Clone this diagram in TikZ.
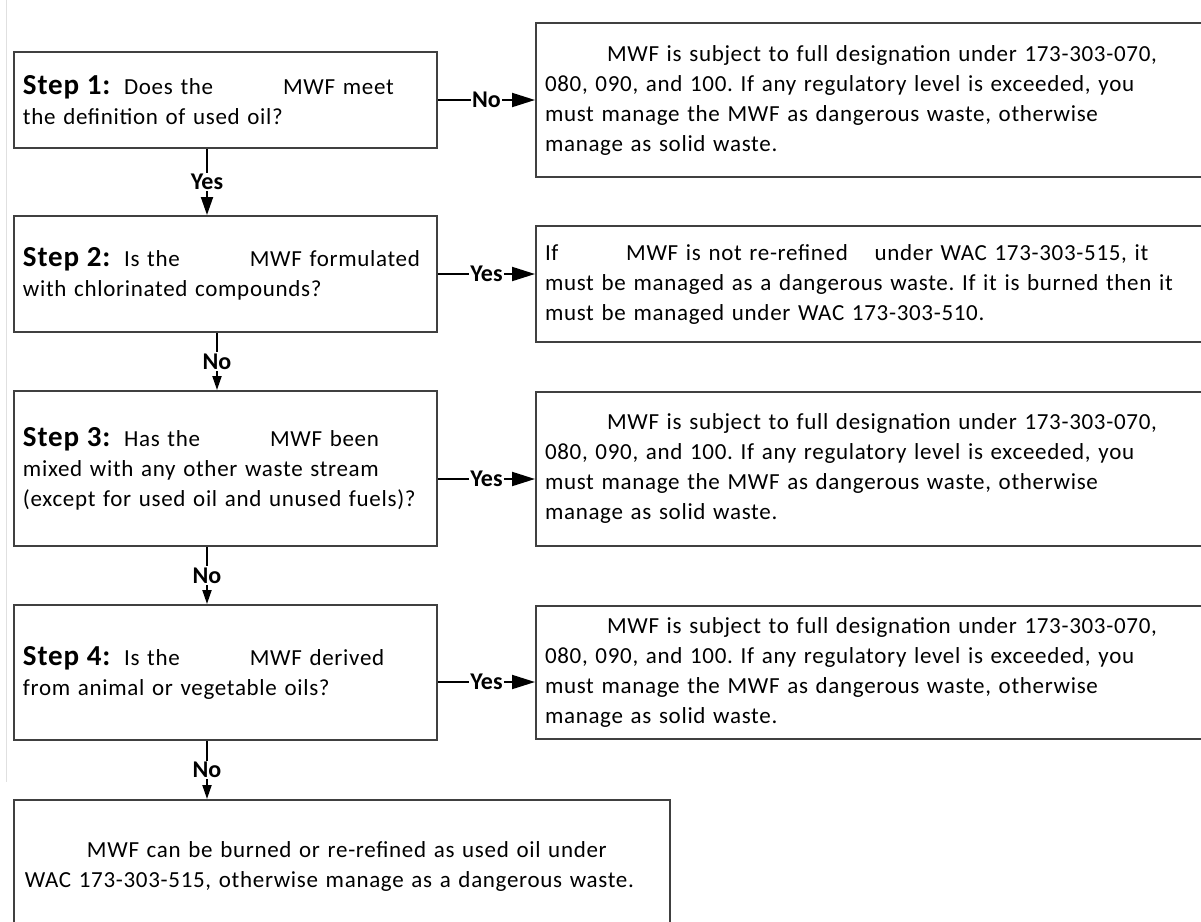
\documentclass[tikz,border=0pt]{standalone}
\usepackage{fontspec}
\setmainfont{Carlito}[LetterSpace=3]
\newfontfamily\lblfont{Carlito}
\usepackage{tikz}
\usetikzlibrary{shapes,arrows.meta,positioning,calc}

\newcommand{\stephead}[1]{{\fontsize{14.5}{15}\selectfont\bfseries #1}\hspace{3pt}}
\newcommand{\gapword}{\hspace*{35pt}}
\newcommand{\indentword}{\hspace*{31pt}}

\begin{document}
\frenchspacing
\begin{tikzpicture}[font=\fontsize{11.5}{15}\selectfont,
		stepbox/.style={rectangle, draw=black!75, line width=1pt, inner xsep=4.5pt, text width=202.5pt, align=left},
		resbox/.style={rectangle, draw=black!75, line width=1pt, inner xsep=4.5pt, text width=327pt, align=left},
		endbox/.style={rectangle, draw=black!75, line width=1pt, inner xsep=5.5pt, text width=317pt, align=left},
		lbl/.style={fill=white, inner sep=0.6pt, font=\lblfont\fontsize{12}{12}\selectfont\bfseries},
		harr/.style={line width=1pt, -{Triangle[length=11.5pt, width=7pt]}},
		varr/.style={line width=1pt, -{Triangle[length=7pt, width=4.5pt]}}]
				\useasboundingbox (0,0) rectangle (600.5pt,-461pt);
				\clip (0,0) rectangle (600.5pt,-461pt);
				\draw[black!12, line width=0.5pt] (3.25pt,0) -- (3.25pt,-391pt);
				
				\node[stepbox, minimum height=48pt] (s1) at (112.75pt,-50pt) {\stephead{Step 1:} Does the\gapword MWF meet\\the definition of used oil?};
				\node[resbox, minimum height=77pt, right=48.5pt of s1] (r1) {\indentword MWF is subject to full designation under 173-303-070,\\080, 090, and 100. If any regulatory level is exceeded, you\\must manage the MWF as dangerous waste, otherwise\\manage as solid waste.};
				\draw[harr] (s1.east) -- node[lbl] {No} (s1.east -| r1.west);
				
				\node[stepbox, minimum height=58pt, below=33pt of s1] (s2) {\stephead{Step 2:} Is the\gapword MWF formulated\\with chlorinated compounds?};
				\node[resbox, minimum height=58pt, right=48.5pt of s2, yshift=-5pt] (r2) {If\hspace*{30pt} MWF is not re-refined\hspace*{9.5pt} under WAC 173-303-515, it\\must be managed as a dangerous waste. If it is burned then it\\must be managed under WAC 173-303-510.};
				\draw[harr] (s2.east) -- node[lbl] {Yes} (s2.east -| r2.west);
				\draw[varr, -{Triangle[length=9pt, width=6pt]}] ([xshift=-9.25pt]s1.south) -- node[lbl] {Yes} ([xshift=-9.25pt]s1.south |- s2.north);
				
				\node[stepbox, minimum height=77.5pt, below=28.5pt of s2] (s3) {\stephead{Step 3:} Has the\gapword MWF been\\mixed with any other waste stream\\(except for used oil and unused fuels)?};
				\node[resbox, minimum height=77pt, right=48.5pt of s3] (r3) {\indentword MWF is subject to full designation under 173-303-070,\\080, 090, and 100. If any regulatory level is exceeded, you\\must manage the MWF as dangerous waste, otherwise\\manage as solid waste.};
				\draw[harr] ([yshift=-5.25pt]s3.east) -- node[lbl] {Yes} ([yshift=-5.25pt]s3.east -| r3.west);
				\draw[varr] ([xshift=-4.25pt]s2.south) -- node[lbl] {No} ([xshift=-4.25pt]s2.south |- s3.north);
				
				\node[stepbox, minimum height=67.5pt, below=28.5pt of s3] (s4) {\stephead{Step 4:} Is the\gapword MWF derived\\from animal or vegetable oils?};
				\node[resbox, minimum height=66.5pt, right=48.5pt of s4] (r4) {\indentword MWF is subject to full designation under 173-303-070,\\080, 090, and 100. If any regulatory level is exceeded, you\\must manage the MWF as dangerous waste, otherwise\\manage as solid waste.};
				\draw[harr] ([yshift=-4.75pt]s4.east) -- node[lbl] {Yes} ([yshift=-4.75pt]s4.east -| r4.west);
				\draw[varr] ([xshift=-9.25pt]s3.south) -- node[lbl] {No} ([xshift=-9.25pt]s3.south |- s4.north);
				
				\node[endbox, minimum height=66.5pt, below=29pt of s4.south west, anchor=north west] (fin) {\indentword MWF can be burned or re-refined as used oil under\\WAC 173-303-515, otherwise manage as a dangerous waste.};
				\draw[varr] ([xshift=-9.25pt]s4.south) -- node[lbl] {No} ([xshift=-9.25pt]s4.south |- fin.north);
			\end{tikzpicture}
\end{document}
